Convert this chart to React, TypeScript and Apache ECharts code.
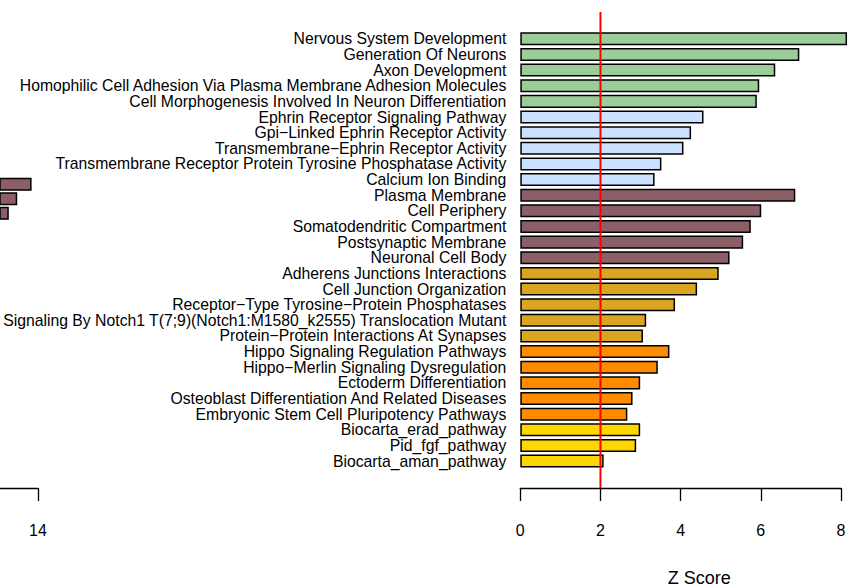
import React, { useEffect, useRef } from "react";
import * as echarts from "echarts";

const categories = [
  "Nervous System Development",
  "Generation Of Neurons",
  "Axon Development",
  "Homophilic Cell Adhesion Via Plasma Membrane Adhesion Molecules",
  "Cell Morphogenesis Involved In Neuron Differentiation",
  "Ephrin Receptor Signaling Pathway",
  "Gpi\u2212Linked Ephrin Receptor Activity",
  "Transmembrane\u2212Ephrin Receptor Activity",
  "Transmembrane Receptor Protein Tyrosine Phosphatase Activity",
  "Calcium Ion Binding",
  "Plasma Membrane",
  "Cell Periphery",
  "Somatodendritic Compartment",
  "Postsynaptic Membrane",
  "Neuronal Cell Body",
  "Adherens Junctions Interactions",
  "Cell Junction Organization",
  "Receptor\u2212Type Tyrosine\u2212Protein Phosphatases",
  "Signaling By Notch1 T(7;9)(Notch1:M1580_k2555) Translocation Mutant",
  "Protein\u2212Protein Interactions At Synapses",
  "Hippo Signaling Regulation Pathways",
  "Hippo\u2212Merlin Signaling Dysregulation",
  "Ectoderm Differentiation",
  "Osteoblast Differentiation And Related Diseases",
  "Embryonic Stem Cell Pluripotency Pathways",
  "Biocarta_erad_pathway",
  "Pid_fgf_pathway",
  "Biocarta_aman_pathway",
];

const zScores = [
  8.15, 6.96, 6.36, 5.96, 5.9,
  4.57, 4.26, 4.07, 3.52, 3.35,
  6.86, 6.01, 5.75, 5.56, 5.22,
  4.95, 4.41, 3.86, 3.14, 3.06,
  3.72, 3.43, 2.99, 2.8, 2.67,
  2.99, 2.89, 2.08,
];

const groups = [
  0, 0, 0, 0, 0,
  1, 1, 1, 1, 1,
  2, 2, 2, 2, 2,
  3, 3, 3, 3, 3,
  4, 4, 4, 4, 4,
  5, 5, 5,
];

const groupColors = ["#9BCD9B", "#CAE1FF", "#8B5F65", "#DAA520", "#FF8C00", "#FFD700"];

const zTicks = [0, 2, 4, 6, 8];
const threshold = 2;

// partially visible neighbouring panel (cut off at the left edge of the picture)
const leftCategories = ["row 1", "row 2", "row 3"];
const leftValues = [13.84, 13.48, 13.27];
const leftTicks = [14];
const leftVisibleMin = 13.05;

const FONT = "'Liberation Sans', Arial, Helvetica, sans-serif";

export default function App() {
  const ref = useRef<HTMLDivElement>(null);

  useEffect(() => {
    if (!ref.current) return;
    const chart = echarts.init(ref.current, undefined, { renderer: "svg" });
    const x0 = 520.3;
    const xw = 320.7;

    chart.setOption({
      animation: false,
      backgroundColor: "#ffffff",
      textStyle: { fontFamily: FONT },
      grid: [
        { left: x0, width: xw, top: 31, height: 437.9, outerBoundsMode: "none", containLabel: false },
        { left: x0, width: xw, top: 12, height: 476, outerBoundsMode: "none", containLabel: false },
        { left: 0, width: 38, top: 177, height: 43.5, outerBoundsMode: "none", containLabel: false },
        { left: 0, width: 38, top: 12, height: 476, outerBoundsMode: "none", containLabel: false },
      ],
      xAxis: [
        { gridIndex: 0, type: "value", min: 0, max: zTicks[zTicks.length - 1], show: false },
        {
          gridIndex: 1,
          type: "value",
          min: zTicks[0],
          max: zTicks[zTicks.length - 1],
          interval: 2,
          axisLine: { show: true, lineStyle: { color: "#000", width: 1.3 } },
          axisTick: { show: true, length: 13, lineStyle: { color: "#000", width: 1.3 } },
          axisLabel: { color: "#000", fontSize: 16, margin: 34, fontFamily: FONT },
          splitLine: { show: false },
          name: "Z Score",
          nameLocation: "middle",
          nameGap: 81,
          nameTextStyle: { color: "#000", fontSize: 18, fontFamily: FONT, padding: [0, 0, 0, 37] },
        },
        { gridIndex: 2, type: "value", min: leftVisibleMin, max: leftTicks[0], show: false },
        {
          gridIndex: 3,
          type: "value",
          min: leftVisibleMin,
          max: leftTicks[0],
          axisLine: { show: true, lineStyle: { color: "#000", width: 1.3 } },
          axisTick: { show: true, length: 13, customValues: leftTicks, lineStyle: { color: "#000", width: 1.3 } },
          axisLabel: {
            color: "#000",
            fontSize: 16,
            margin: 34,
            fontFamily: FONT,
            customValues: leftTicks,
          },
          splitLine: { show: false },
        },
      ],
      yAxis: [
        {
          gridIndex: 0,
          type: "category",
          inverse: true,
          data: categories,
          axisLine: { show: false },
          axisTick: { show: false },
          axisLabel: { color: "#000", fontSize: 15.75, margin: 14, interval: 0, fontFamily: FONT },
        },
        { gridIndex: 1, type: "value", min: 0, max: 1, show: false },
        { gridIndex: 2, type: "category", inverse: true, data: leftCategories, show: false },
        { gridIndex: 3, type: "value", min: 0, max: 1, show: false },
      ],
      series: [
        {
          type: "bar",
          xAxisIndex: 0,
          yAxisIndex: 0,
          barCategoryGap: "16.7%",
          clip: false,
          data: zScores.map((v, i) => ({ value: v, itemStyle: { color: groupColors[groups[i]] } })),
          itemStyle: { borderColor: "#000", borderWidth: 1.5 },
          z: 2,
        },
        {
          type: "bar",
          xAxisIndex: 2,
          yAxisIndex: 2,
          barCategoryGap: "9%",
          clip: true,
          data: leftValues,
          itemStyle: { color: "#8B5F65", borderColor: "#000", borderWidth: 1.5 },
          z: 2,
        },
        {
          type: "line",
          xAxisIndex: 1,
          yAxisIndex: 1,
          data: [
            [threshold, 0],
            [threshold, 1],
          ],
          symbol: "none",
          lineStyle: { color: "#FF0000", width: 2 },
          z: 5,
        },
      ],
    });

    return () => chart.dispose();
  }, []);

  return (
    <div
      ref={ref}
      style={{ position: "fixed", left: 0, top: 0, width: 858, height: 588, background: "#fff" }}
    />
  );
}
